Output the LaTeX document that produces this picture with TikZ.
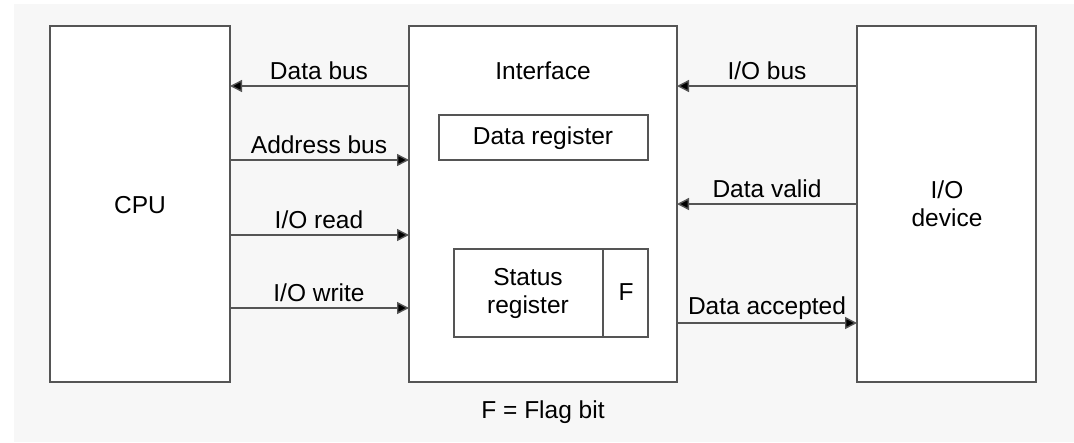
\documentclass[tikz,border=0pt]{standalone}
\usepackage{fontspec}
\setmainfont{Liberation Sans}
\usetikzlibrary{arrows.meta}
\definecolor{bg}{HTML}{F7F7F7}
\definecolor{ln}{HTML}{555555}
\tikzset{
  blk/.style={draw=ln, line width=1.4pt, fill=white},
  lbl/.style={font=\fontsize{24.5}{28}\selectfont, text=black, inner sep=0pt},
  conn/.style={draw=ln, line width=1.4pt, -{Triangle[length=12pt,width=12pt,fill=black]}},
}
\begin{document}
\begin{tikzpicture}[x=1pt,y=-1pt]
\useasboundingbox (0,0) rectangle (1074,442);
\fill[bg] (14,4) rectangle (1074,442);
% boxes
\draw[blk] (50,26) rectangle (230,382);
\draw[blk] (409,26) rectangle (677,382);
\draw[blk] (857,26) rectangle (1036,382);
\draw[blk] (439,115) rectangle (648,160);
\draw[blk] (454,249) rectangle (648,337);
\draw[draw=ln, line width=1.4pt] (603,249) -- (603,337);
% anchors
\coordinate (cpuA) at (230,86);
\coordinate (cpuB) at (230,160);
\coordinate (cpuC) at (230,235);
\coordinate (cpuD) at (230,308);
\coordinate (ifL1) at (409,86);
\coordinate (ifL2) at (409,160);
\coordinate (ifL3) at (409,235);
\coordinate (ifL4) at (409,308);
\coordinate (ifR1) at (677,86);
\coordinate (ifR2) at (677,204);
\coordinate (ifR3) at (677,323);
\coordinate (ioA) at (857,86);
\coordinate (ioB) at (857,204);
\coordinate (ioC) at (857,323);
% connectors
\draw[conn] (ifL1) -- (cpuA);
\draw[conn] (cpuB) -- (ifL2);
\draw[conn] (cpuC) -- (ifL3);
\draw[conn] (cpuD) -- (ifL4);
\draw[conn] (ioA) -- (ifR1);
\draw[conn] (ioB) -- (ifR2);
\draw[conn] (ifR3) -- (ioC);
% labels
\node[lbl] (t1) at (319,71) {Data bus};
\node[lbl] (t2) at (319,145) {Address bus};
\node[lbl] (t3) at (319,220) {I/O read};
\node[lbl] (t4) at (319,293) {I/O write};
\node[lbl] (t5) at (767,71) {I/O bus};
\node[lbl] (t6) at (767,189) {Data valid};
\node[lbl] (t7) at (767,308) {Data accepted};
\node[lbl] (cpu) at (140,205) {CPU};
\node[lbl, align=center] (io) at (947,204) {I/O\\device};
\node[lbl] (intf) at (543,71) {Interface};
\node[lbl] (dr) at (543,138) {Data register};
\node[lbl, align=center] (sr) at (528,293) {Status\\register};
\node[lbl] (f) at (626,292) {F};
\node[lbl] (fb) at (543,412) {F = Flag bit};
\end{tikzpicture}
\end{document}
